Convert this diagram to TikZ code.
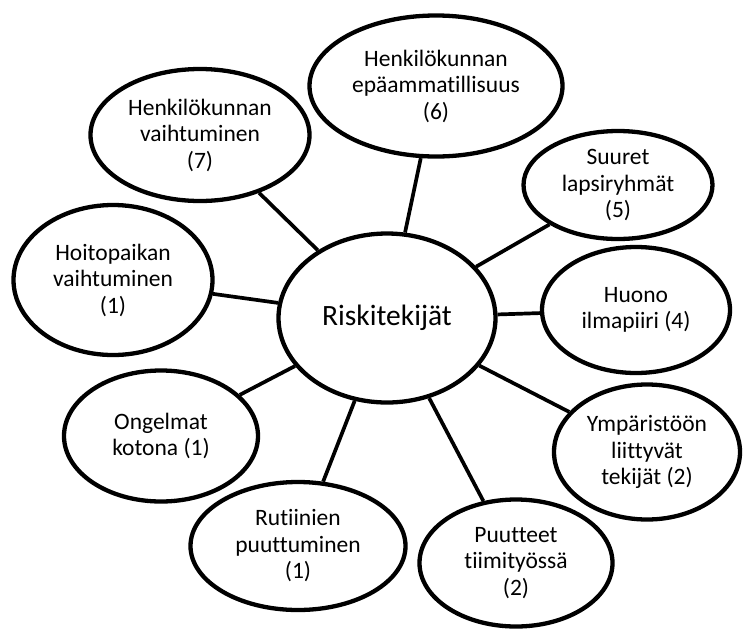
\documentclass[tikz,border=0pt]{standalone}
\usepackage{fontspec}
\setmainfont{Carlito}[Ligatures=NoCommon]
\usetikzlibrary{shapes.geometric}

\tikzset{
  factor/.style={ellipse, draw, line width=4.3pt, align=center, inner sep=0pt,
    font=\fontsize{23.5}{26.5}\selectfont},
  link/.style={line width=3.7pt}
}

\begin{document}
\begin{tikzpicture}[x=1pt, y=-1pt]
\useasboundingbox (0,0) rectangle (744,630);

%central node
\node[factor, minimum width=217, minimum height=169,
  font=\fontsize{29.5}{33}\selectfont] (riski) at (387,318) {Riskitekijät};

%factors around it
\node[factor, minimum width=219, minimum height=132] (vaihto) at (200,135) {Henkilökunnan\\vaihtuminen\\(7)};
\node[factor, minimum width=253, minimum height=141] (epaam) at (436,86) {Henkilökunnan\\epäammatillisuus\\(6)};
\node[factor, minimum width=189, minimum height=108] (suuret) at (618,185) {Suuret\\lapsiryhmät\\(5)};
\node[factor, minimum width=188, minimum height=126] (huono) at (636,310) {Huono\\ilmapiiri (4)};
\node[factor, minimum width=186, minimum height=135] (ymparisto) at (647,452) {Ympäristöön\\liittyvät\\tekijät (2)};
\node[factor, minimum width=193, minimum height=127] (puutteet) at (516,563) {Puutteet\\tiimityössä\\(2)};
\node[factor, minimum width=215, minimum height=128] (rutiinit) at (298,546) {Rutiinien\\puuttuminen\\(1)};
\node[factor, minimum width=194, minimum height=131] (ongelmat) at (161,436) {Ongelmat\\kotona (1)};
\node[factor, minimum width=199, minimum height=150] (hoitopaikka) at (113,280) {Hoitopaikan\\vaihtuminen\\(1)};

%connectors
\foreach \f in {vaihto, epaam, suuret, huono, ymparisto, puutteet, rutiinit, ongelmat, hoitopaikka}
  \draw[link] (riski) -- (\f);

\end{tikzpicture}
\end{document}
